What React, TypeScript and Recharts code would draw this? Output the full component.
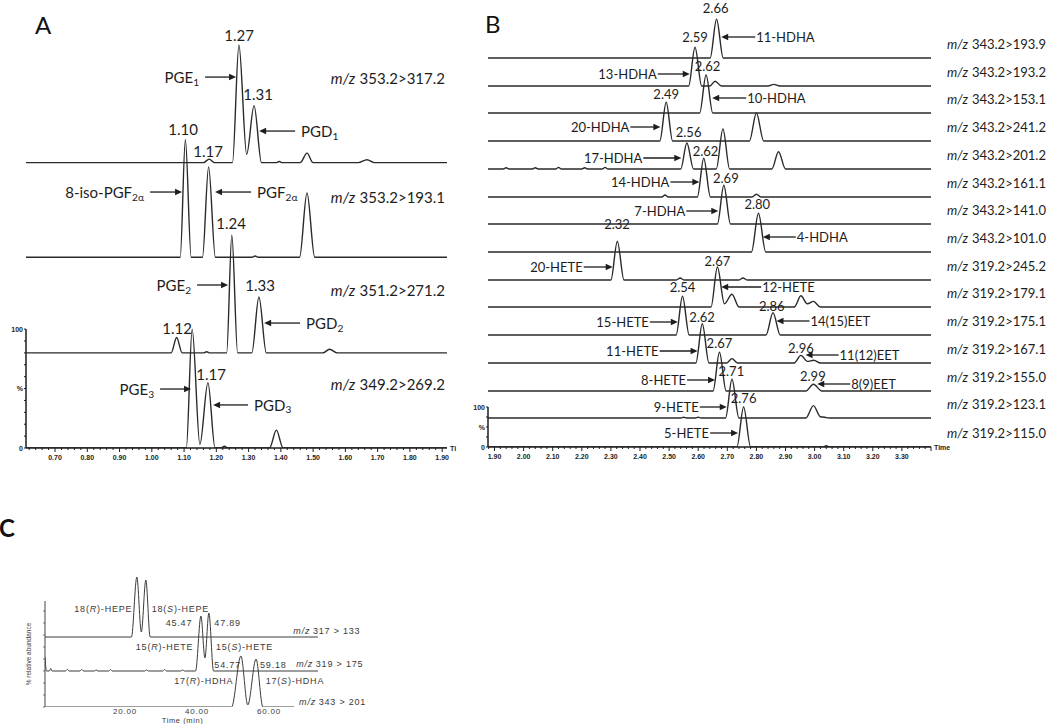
import React from 'react';
import { LineChart, Line, XAxis, YAxis, ReferenceLine, ReferenceDot } from 'recharts';

type Pt = [number, number];

// ---------- Panel A: prostaglandins (time in min, intensity in % of base peak) ----------
const aTransitions = ['353.2>317.2', '353.2>193.1', '351.2>271.2', '349.2>269.2'];
const aOffsets = [240, 160.5, 80, 0];
const aLabelLevels = [311, 211, 133, 54];

const aTrace1: Pt[] = [
  [0.61, 0], [1.16, 0], [1.178, 3], [1.195, 0], [1.25, 0], [1.27, 99], [1.294, 7], [1.317, 48],
  [1.34, 0], [1.385, 0], [1.395, 1], [1.405, 0], [1.46, 0], [1.481, 8], [1.50, 0], [1.64, 0],
  [1.667, 2.5], [1.69, 0], [1.915, 0],
];
const aTrace2: Pt[] = [
  [0.61, 0], [1.088, 0], [1.104, 99], [1.122, 0], [1.157, 0], [1.176, 76], [1.197, 0], [1.31, 0],
  [1.32, 1], [1.33, 0], [1.458, 0], [1.481, 54], [1.505, 0], [1.915, 0],
];
const aTrace3: Pt[] = [
  [0.61, 0], [1.06, 0], [1.077, 13], [1.094, 0], [1.16, 0], [1.17, 1], [1.18, 0], [1.232, 0],
  [1.248, 99], [1.266, 0], [1.31, 0], [1.332, 47], [1.355, 0], [1.53, 0], [1.551, 3], [1.575, 0],
  [1.915, 0],
];
const aTrace4: Pt[] = [
  [0.61, 0], [1.107, 0], [1.125, 100], [1.149, 3], [1.174, 55], [1.196, 0], [1.215, 0],
  [1.225, 1.5], [1.235, 0], [1.365, 0], [1.386, 15], [1.407, 0], [1.915, 0],
];
const aTraces = [aTrace1, aTrace2, aTrace3, aTrace4];

const aPeakLabels = [
  { t: 1.2705, v: 347, text: '1.27' },
  { t: 1.3295, v: 298, text: '1.31' },
  { t: 1.097, v: 268, text: '1.10' },
  { t: 1.1744, v: 250, text: '1.17' },
  { t: 1.2457, v: 189, text: '1.24' },
  { t: 1.3357, v: 137, text: '1.33' },
  { t: 1.0783, v: 101, text: '1.12' },
  { t: 1.1837, v: 62, text: '1.17' },
];
const aCallouts = [
  { label: 'PGE', sub: '1', t: 1.2612, v: 312, side: 'left', len: 31 },
  { label: 'PGD', sub: '1', t: 1.3326, v: 266.6, side: 'right', len: 36 },
  { label: '8-iso-PGF', sub: '2α', t: 1.0938, v: 215.3, side: 'left', len: 32 },
  { label: 'PGF', sub: '2α', t: 1.1961, v: 215.3, side: 'right', len: 36 },
  { label: 'PGE', sub: '2', t: 1.2364, v: 137.1, side: 'left', len: 31 },
  { label: 'PGD', sub: '2', t: 1.3481, v: 105.1, side: 'right', len: 36 },
  { label: 'PGE', sub: '3', t: 1.1217, v: 49.6, side: 'left', len: 31 },
  { label: 'PGD', sub: '3', t: 1.1899, v: 36.2, side: 'right', len: 35 },
];

// ---------- Panel B: HDHA / HETE / EET ----------
const bTransitions = [
  '343.2>193.9', '343.2>193.2', '343.2>153.1', '343.2>241.2', '343.2>201.2', '343.2>161.1',
  '343.2>141.0', '343.2>101.0', '319.2>245.2', '319.2>179.1', '319.2>175.1', '319.2>167.1',
  '319.2>155.0', '319.2>123.1', '319.2>115.0',
];
const bOffsets = [972.5, 902.5, 835, 765, 695, 625, 557.5, 487.5, 417.5, 350, 280, 210, 140, 72.5, 0];

const B0 = 1.8776;
const B1 = 3.4;
const bTraces: Pt[][] = [
  [[B0, 0], [2.641, 0], [2.663, 97], [2.686, 0], [B1, 0]],
  [[B0, 0], [2.567, 0], [2.589, 97], [2.612, 0], [2.64, 0], [2.658, 12], [2.68, 0], [2.84, 0], [2.86, 4], [2.88, 0], [B1, 0]],
  [[B0, 0], [2.605, 0], [2.627, 95], [2.65, 0], [B1, 0]],
  [[B0, 0], [2.468, 0], [2.49, 97], [2.512, 0], [2.776, 0], [2.80, 70], [2.825, 0], [B1, 0]],
  [[B0, 0], [1.93, 0], [1.94, 3], [1.95, 0], [2.03, 0], [2.04, 3], [2.05, 0], [2.11, 0], [2.12, 4], [2.13, 0],
    [2.20, 0], [2.21, 3], [2.22, 0], [2.27, 0], [2.28, 4], [2.29, 0], [2.54, 0], [2.561, 65], [2.584, 0],
    [2.662, 0], [2.685, 100], [2.708, 0], [2.853, 0], [2.876, 43], [2.90, 0], [B1, 0]],
  [[B0, 0], [2.475, 0], [2.486, 5], [2.497, 0], [2.597, 0], [2.619, 97], [2.642, 0], [2.785, 0], [2.80, 7], [2.815, 0], [B1, 0]],
  [[B0, 0], [2.666, 0], [2.688, 97], [2.711, 0], [B1, 0]],
  [[B0, 0], [2.783, 0], [2.807, 97], [2.832, 0], [B1, 0]],
  [[B0, 0], [2.30, 0], [2.322, 97], [2.345, 0], [2.525, 0], [2.538, 5], [2.551, 0], [2.74, 0], [2.754, 5], [2.768, 0], [B1, 0]],
  [[B0, 0], [2.644, 0], [2.666, 100], [2.69, 8], [2.716, 32], [2.74, 0], [2.93, 0], [2.953, 28], [2.975, 8], [2.996, 14], [3.02, 0], [B1, 0]],
  [[B0, 0], [2.524, 0], [2.546, 97], [2.569, 0], [2.833, 0], [2.857, 56], [2.882, 0], [B1, 0]],
  [[B0, 0], [2.592, 0], [2.614, 98], [2.637, 0], [2.698, 0], [2.716, 11], [2.735, 0], [2.93, 0], [2.953, 19], [2.975, 4], [2.997, 7], [3.02, 0], [B1, 0]],
  [[B0, 0], [2.651, 0], [2.673, 97], [2.696, 0], [2.97, 0], [2.996, 17], [3.025, 0], [B1, 0]],
  [[B0, 0], [2.54, 0], [2.55, 2], [2.56, 0], [2.59, 0], [2.60, 2], [2.61, 0], [2.694, 0], [2.716, 97], [2.74, 0],
    [2.97, 0], [2.996, 31], [3.02, 3], [3.035, 2], [3.05, 0], [B1, 0]],
  [[B0, 0], [2.733, 0], [2.756, 100], [2.78, 0], [3.03, 0], [3.04, 3], [3.05, 0], [B1, 0]],
];

const bPeakLabels = [
  { t: 2.66, v: 1097.5, text: '2.66' },
  { t: 2.589, v: 1025, text: '2.59' },
  { t: 2.632, v: 952.5, text: '2.62' },
  { t: 2.49, v: 882.5, text: '2.49' },
  { t: 2.567, v: 787.5, text: '2.56' },
  { t: 2.625, v: 740, text: '2.62' },
  { t: 2.695, v: 672.5, text: '2.69' },
  { t: 2.803, v: 607.5, text: '2.80' },
  { t: 2.321, v: 557.5, text: '2.32' },
  { t: 2.666, v: 465, text: '2.67' },
  { t: 2.546, v: 400, text: '2.54' },
  { t: 2.853, v: 352.5, text: '2.86' },
  { t: 2.613, v: 325, text: '2.62' },
  { t: 2.673, v: 260, text: '2.67' },
  { t: 2.953, v: 247.5, text: '2.96' },
  { t: 2.714, v: 190, text: '2.71' },
  { t: 2.994, v: 177.5, text: '2.99' },
  { t: 2.756, v: 122.5, text: '2.76' },
];
const bCallouts = [
  { label: '11-HDHA', t: 2.679, v: 1025, side: 'right', len: 34 },
  { label: '13-HDHA', t: 2.571, v: 932.5, side: 'left', len: 32 },
  { label: '10-HDHA', t: 2.648, v: 872.5, side: 'right', len: 34 },
  { label: '20-HDHA', t: 2.47, v: 800, side: 'left', len: 30 },
  { label: '17-HDHA', t: 2.542, v: 722.5, side: 'left', len: 38 },
  { label: '14-HDHA', t: 2.604, v: 662.5, side: 'left', len: 29 },
  { label: '7-HDHA', t: 2.669, v: 590, side: 'left', len: 32 },
  { label: '4-HDHA', t: 2.822, v: 525, side: 'right', len: 33 },
  { label: '20-HETE', t: 2.306, v: 450, side: 'left', len: 29 },
  { label: '12-HETE', t: 2.679, v: 400, side: 'right', len: 40 },
  { label: '15-HETE', t: 2.53, v: 312.5, side: 'left', len: 28 },
  { label: '14(15)EET', t: 2.869, v: 315, side: 'right', len: 33 },
  { label: '11-HETE', t: 2.598, v: 240, side: 'left', len: 38 },
  { label: '11(12)EET', t: 2.969, v: 230, side: 'right', len: 33 },
  { label: '8-HETE', t: 2.658, v: 167.5, side: 'left', len: 28 },
  { label: '8(9)EET', t: 3.009, v: 157.5, side: 'right', len: 33 },
  { label: '9-HETE', t: 2.698, v: 100, side: 'left', len: 27 },
  { label: '5-HETE', t: 2.737, v: 35, side: 'left', len: 28 },
];

// ---------- Panel C: chiral separation (time in min) ----------
const cTransitions = ['317 > 133', '319 > 175', '343 > 201'];
const cOffsets = [70, 36, 0];
const cLabelLevels = [76, 43, 5];
const cTrace1: Pt[] = [[-2.2, 0], [21.8, 0], [23.3, 60], [24.55, 5], [25.8, 57], [27.0, 0], [73.6, 0]];
const cTrace2: Pt[] = [
  [-2.2, 14], [-1.8, 0], [-1, 0], [-0.6, 2.5], [-0.2, 0], [3.5, 0], [4, 1.5], [4.5, 0], [7.5, 0], [8, 1.5],
  [8.5, 0], [11.5, 0], [12, 1], [12.5, 0], [15.5, 0], [16, 1.5], [16.5, 0], [25.5, 0], [26, 1], [26.5, 0],
  [30.5, 0], [31, 1.5], [31.5, 0], [35.5, 0], [36, 1], [36.5, 0], [39.6, 0], [41.1, 55], [42.2, 13],
  [43.3, 58], [44.6, 0], [73.6, 0],
];
const cTrace3: Pt[] = [[-2.2, 0], [49.6, 0], [52.2, 51], [54.1, 2], [56.4, 48], [58.3, 0], [67, 0]];
const cTraces = [cTrace1, cTrace2, cTrace3];
const cTexts = [
  { t: 14.0, v: 97.7, text: '18(|R|)-HEPE' },
  { t: 35.4, v: 97.7, text: '18(|S|)-HEPE' },
  { t: 35.0, v: 84.3, text: '45.47' },
  { t: 48.5, v: 84.3, text: '47.89' },
  { t: 31.0, v: 59.7, text: '15(|R|)-HETE' },
  { t: 53.2, v: 59.7, text: '15(|S|)-HETE' },
  { t: 48.5, v: 41.7, text: '54.77' },
  { t: 61.2, v: 41.7, text: '59.18' },
  { t: 41.9, v: 26.3, text: '17(|R|)-HDHA' },
  { t: 67.2, v: 26.3, text: '17(|S|)-HDHA' },
];

const INK = '#1d1d1d';
const LATO = 'Lato, "Open Sans", sans-serif';
const ARIAL = '"Liberation Sans", Arial, sans-serif';

const rows = (pts: Pt[], off: number) => pts.map(([t, v]) => ({ t, v: v + off }));
const stepTicks = (from: number, n: number, step: number) =>
  Array.from({ length: n }, (_, i) => +(from + i * step).toFixed(2));

const timeTick = (lastLabel: number) => (p: any) => {
  const val = p.payload.value as number;
  const major = Math.abs(val * 10 - Math.round(val * 10)) < 1e-6;
  return (
    <g>
      <line x1={p.x} x2={p.x} y1={p.y} y2={p.y + (major ? 4 : 2)} stroke={INK} strokeWidth={1} />
      {major && val <= lastLabel + 1e-6 && (
        <text x={p.x} y={p.y + 9} textAnchor="middle" dominantBaseline="central" fontSize={7}
          fontWeight="bold" fontFamily={ARIAL} fill={INK}>
          {val.toFixed(2)}
        </text>
      )}
    </g>
  );
};

const pctTick = (p: any) => {
  const val = p.payload.value as number;
  const label = val === 100 ? '100' : val === 50 ? '%' : val === 0 ? '0' : '';
  return (
    <g>
      <line x1={p.x - 2} x2={p.x} y1={p.y} y2={p.y} stroke={INK} strokeWidth={1} />
      {label && (
        <text x={p.x - 3} y={p.y} textAnchor="end" dominantBaseline="central" fontSize={7}
          fontWeight="bold" fontFamily={ARIAL} fill={INK}>
          {label}
        </text>
      )}
    </g>
  );
};

const plainTick = (p: any) => (
  <line x1={p.x - 2} x2={p.x} y1={p.y} y2={p.y} stroke="#555" strokeWidth={0.8} />
);

const cTimeTick = (p: any) => (
  <text x={p.x} y={p.y + 4} textAnchor="middle" dominantBaseline="central" fontSize={8}
    letterSpacing={0.8} fontFamily={ARIAL} fill="#3a3a3a">
    {(p.payload.value as number).toFixed(2)}
  </text>
);

const anchorAt = (key: string, t: number, v: number, draw: (x: number, y: number) => React.ReactElement) => (
  <ReferenceDot key={key} x={t} y={v} r={0} ifOverflow="visible" shape={(p: any) => draw(p.cx, p.cy)} />
);

const callout = (c: any, fs: number, gap: number) => (x: number, y: number) => {
  const dir = c.side === 'left' ? -1 : 1;
  const tail = x + dir * c.len;
  return (
    <g>
      <line x1={x + dir * 6} y1={y} x2={tail} y2={y} stroke={INK} strokeWidth={1.3} />
      <polygon points={`${x},${y} ${x + dir * 7},${y - 3.2} ${x + dir * 7},${y + 3.2}`} fill={INK} />
      <text x={tail + dir * gap} y={y} textAnchor={dir < 0 ? 'end' : 'start'} dominantBaseline="central"
        fontSize={fs} fontFamily={LATO} fill={INK}>
        {c.label}
        {c.sub && <tspan fontSize={fs * 0.68} dy={fs * 0.3}>{c.sub}</tspan>}
      </text>
    </g>
  );
};

const centerText = (text: string, fs: number) => (x: number, y: number) => (
  <text x={x} y={y} textAnchor="middle" dominantBaseline="central" fontSize={fs} fontFamily={LATO} fill={INK}>
    {text}
  </text>
);

const mzText = (mz: string, fs: number, anchor: 'start' | 'end', dx: number, font = LATO, color = INK, ls = 0) =>
  (x: number, y: number) => (
    <text x={x + dx} y={y} textAnchor={anchor} dominantBaseline="central" fontSize={fs} fontFamily={font}
      fill={color} letterSpacing={ls}>
      <tspan fontStyle="italic">m/z</tspan>
      <tspan dx={fs * 0.3}>{mz}</tspan>
    </text>
  );

const italicParts = (text: string) =>
  text.split('|').map((s, i) => (i % 2 ? <tspan key={i} fontStyle="italic">{s}</tspan> : <tspan key={i}>{s}</tspan>));

const cText = (text: string) => (x: number, y: number) => (
  <text x={x} y={y} textAnchor="middle" dominantBaseline="central" fontSize={9} letterSpacing={0.8}
    fontFamily={ARIAL} fill="#3a3a3a">
    {italicParts(text)}
  </text>
);

const sideText = (text: string, dx: number, fs: number, anchor: 'start' | 'end' = 'start') =>
  (x: number, y: number) => (
    <text x={x + dx} y={y} textAnchor={anchor} dominantBaseline="central" fontSize={fs} fontWeight="bold"
      fontFamily={ARIAL} fill={INK}>
      {text}
    </text>
  );

const PanelA = () => (
  <LineChart width={470} height={480} margin={{ top: 20, right: 23, bottom: 12, left: 0 }}>
    <XAxis type="number" dataKey="t" domain={[0.61, 1.915]} allowDataOverflow ticks={stepTicks(0.62, 65, 0.02)}
      interval={0} tickSize={0} tickMargin={0} tick={timeTick(1.9)} axisLine={{ stroke: INK, strokeWidth: 1.5 }}
      height={20} />
    <YAxis type="number" domain={[0, 360]} allowDataOverflow ticks={stepTicks(0, 11, 10)} interval={0}
      tickSize={0} tickMargin={0} tick={pctTick} axisLine={false} width={26} />
    <ReferenceLine segment={[{ x: 0.61, y: 0 }, { x: 0.61, y: 100 }]} stroke={INK} strokeWidth={1.5} ifOverflow="visible" />
    {aTraces.map((tr, i) => (
      <Line key={i} data={rows(tr, aOffsets[i])} dataKey="v" type="monotone" dot={false} activeDot={false}
        stroke="#2a2a2a" strokeWidth={1.4} isAnimationActive={false} />
    ))}
    {aPeakLabels.map((l, i) => anchorAt(`ap${i}`, l.t, l.v, centerText(l.text, 15)))}
    {aCallouts.map((c, i) => anchorAt(`ac${i}`, c.t, c.v, callout(c, 15, 6)))}
    {aTransitions.map((m, i) => anchorAt(`am${i}`, 1.915, aLabelLevels[i], mzText(m, 15, 'end', -2)))}
    {anchorAt('ati', 1.915, 0, sideText('Ti', 3, 7))}
  </LineChart>
);

const PanelB = () => (
  <LineChart width={580} height={480} margin={{ top: 4, right: 119, bottom: 13, left: 0 }}>
    <XAxis type="number" dataKey="t" domain={[B0, B1]} allowDataOverflow ticks={stepTicks(1.88, 77, 0.02)}
      interval={0} tickSize={0} tickMargin={0} tick={timeTick(3.3)} axisLine={{ stroke: INK, strokeWidth: 1.5 }}
      height={20} />
    <YAxis type="number" domain={[0, 1107.5]} allowDataOverflow ticks={[0, 25, 50, 75, 100]} interval={0}
      tickSize={0} tickMargin={0} tick={pctTick} axisLine={false} width={18} />
    <ReferenceLine segment={[{ x: B0, y: 0 }, { x: B0, y: 100 }]} stroke={INK} strokeWidth={1.5} ifOverflow="visible" />
    {bTraces.map((tr, i) => (
      <Line key={i} data={rows(tr, bOffsets[i])} dataKey="v" type="monotone" dot={false} activeDot={false}
        stroke="#2a2a2a" strokeWidth={1.4} isAnimationActive={false} />
    ))}
    {bPeakLabels.map((l, i) => anchorAt(`bp${i}`, l.t, l.v, centerText(l.text, 13)))}
    {bCallouts.map((c, i) => anchorAt(`bc${i}`, c.t, c.v, callout(c, 13, 1)))}
    {bTransitions.map((m, i) => anchorAt(`bm${i}`, B1, bOffsets[i] + 35, mzText(m, 13, 'start', 16)))}
    {anchorAt('bti', B1, 0, sideText('Time', 3, 7))}
  </LineChart>
);

const PanelC = () => (
  <LineChart width={400} height={164} margin={{ top: 7, right: 82, bottom: 0, left: 0 }}>
    <XAxis type="number" dataKey="t" domain={[-2.2, 73.6]} allowDataOverflow ticks={[20, 40, 60]} interval={0}
      tickSize={0} tickMargin={0} tick={cTimeTick} axisLine={false} height={17} />
    <YAxis type="number" domain={[0, 140]} allowDataOverflow ticks={stepTicks(0, 9, 12)} interval={0}
      tickSize={0} tickMargin={0} tick={plainTick} axisLine={false} width={45} />
    <ReferenceLine segment={[{ x: -2.2, y: 0 }, { x: -2.2, y: 106 }]} stroke="#444" strokeWidth={1} ifOverflow="visible" />
    {cTraces.map((tr, i) => (
      <Line key={i} data={rows(tr, cOffsets[i])} dataKey="v" type="monotone" dot={false} activeDot={false}
        stroke="#3c3c3c" strokeWidth={1} isAnimationActive={false} />
    ))}
    {cTexts.map((l, i) => anchorAt(`ct${i}`, l.t, l.v, cText(l.text)))}
    {cTransitions.map((m, i) =>
      anchorAt(`cm${i}`, 66.75 + i * 0.8, cLabelLevels[i], mzText(m, 9, 'start', 0, ARIAL, '#3a3a3a', 0.8)))}
    {anchorAt('cx', 36, 0, (x, y) => (
      <text x={x} y={y + 13} textAnchor="middle" dominantBaseline="central" fontSize={7.5} letterSpacing={0.6}
        fontFamily={ARIAL} fill="#3a3a3a">Time (min)</text>
    ))}
    {anchorAt('cy', -2.2, 53, (x, y) => (
      <text x={x - 17} y={y} textAnchor="middle" dominantBaseline="central" fontSize={6.5} fontFamily={ARIAL}
        fill="#3a3a3a" transform={`rotate(-90 ${x - 17} ${y})`}>% relative abundance</text>
    ))}
  </LineChart>
);

const letter = (left: number, top: number, bold = false): React.CSSProperties => ({
  position: 'absolute', left, top, fontSize: 24, lineHeight: 1, fontFamily: LATO,
  fontWeight: bold ? 700 : 400, color: '#111',
});

export default function App() {
  return (
    <div style={{ position: 'absolute', left: 0, top: 0, width: 1050, height: 724, background: '#fff', overflow: 'hidden' }}>
      <div style={{ position: 'absolute', left: 0, top: 0 }}><PanelA /></div>
      <div style={{ position: 'absolute', left: 470, top: 0 }}><PanelB /></div>
      <div style={{ position: 'absolute', left: 0, top: 560 }}><PanelC /></div>
      <div style={letter(35, 13)}>A</div>
      <div style={letter(485, 12)}>B</div>
      <div style={letter(-1, 516, true)}>C</div>
    </div>
  );
}
